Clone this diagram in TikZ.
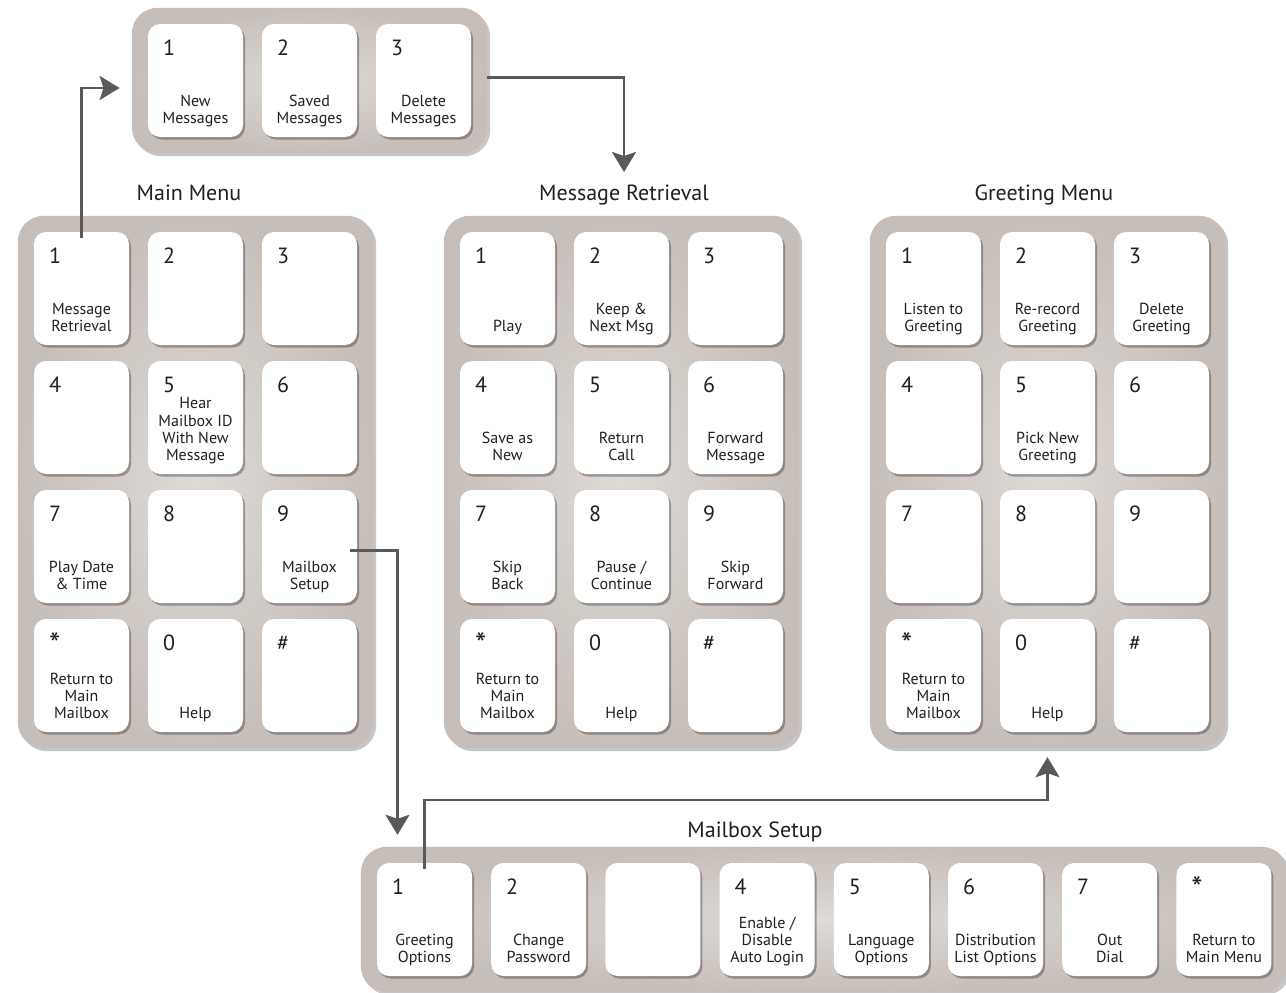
\documentclass[tikz,border=0pt]{standalone}
\usepackage{fontspec}
\setmainfont{PT Sans}
\usetikzlibrary{arrows.meta,positioning,fit,backgrounds,calc,shadows}
\definecolor{kpInk}{HTML}{231F20}
\definecolor{kpPanel}{HTML}{C6BEB9}
\definecolor{kpGlow}{HTML}{DEDAD6}
\definecolor{kpArrow}{HTML}{58595B}
\newcommand{\kpstar}{\raisebox{-5pt}{\fontsize{32}{32}\selectfont *}}
\tikzset{
  key/.style    ={fill=white,rounded corners=12pt,minimum width=95pt,minimum height=113pt,
                  inner sep=0pt,
                  drop shadow={shadow xshift=2pt,shadow yshift=-2.5pt,opacity=0.35,fill=kpInk}},
  keynum/.style ={anchor=base west,inner sep=0pt,font=\fontsize{22}{26}\selectfont,text=kpInk},
  keytxt/.style ={anchor=south,inner sep=0pt,align=center,
                  font=\fontsize{16}{17.3}\selectfont,text=kpInk},
  panel/.style  ={rounded corners=26pt,inner sep=16pt,shade,inner color=kpGlow,outer color=kpPanel,
                  drop shadow={shadow xshift=3pt,shadow yshift=-3pt,opacity=0.25,fill=kpInk}},
  title/.style  ={anchor=base,font=\fontsize{22}{26}\selectfont,text=kpInk},
  flow/.style   ={-{Stealth[length=20pt,width=24pt,inset=4pt]},kpArrow,line width=2.6pt},
}

\begin{document}
\begin{tikzpicture}[x=1pt,y=1pt]
\useasboundingbox (0,0) rectangle (1286,-993);
%% message list
\foreach \i/\n/\t in {1/1/{New\\Messages}, 2/2/{Saved\\Messages}, 3/3/{Delete\\Messages}}
{
  \node[key] (nm\i) at ({195.5+(\i-1)*114},-80.5) {};
  \node[keynum] (nm\i-n) at ($(nm\i.north west)+(15,-32)$) {\n};
  \node[keytxt] (nm\i-t) at ($(nm\i.south)+(0,8)$) {\t\strut};
}
%% main menu
\foreach \i/\c/\r/\n/\t in {
  1/0/0/1/{Message\\Retrieval}, 2/1/0/2/{}, 3/2/0/3/{},
  4/0/1/4/{}, 5/1/1/5/{Hear\\Mailbox ID\\With New\\Message}, 6/2/1/6/{},
  7/0/2/7/{Play Date\\\& Time}, 8/1/2/8/{}, 9/2/2/9/{Mailbox\\Setup},
  10/0/3/\kpstar/{Return to\\Main\\Mailbox}, 11/1/3/0/{Help}, 12/2/3/\#/{}}
{
  \node[key] (mm\i) at ({81.5+\c*114},{-288.5-\r*129}) {};
  \node[keynum] (mm\i-n) at ($(mm\i.north west)+(15,-32)$) {\n};
  \node[keytxt] (mm\i-t) at ($(mm\i.south)+(0,8)$) {\t\strut};
}
%% message retrieval
\foreach \i/\c/\r/\n/\t in {
  1/0/0/1/{Play}, 2/1/0/2/{Keep \&\\Next Msg}, 3/2/0/3/{},
  4/0/1/4/{Save as\\New}, 5/1/1/5/{Return\\Call}, 6/2/1/6/{Forward\\Message},
  7/0/2/7/{Skip\\Back}, 8/1/2/8/{Pause /\\Continue}, 9/2/2/9/{Skip\\Forward},
  10/0/3/\kpstar/{Return to\\Main\\Mailbox}, 11/1/3/0/{Help}, 12/2/3/\#/{}}
{
  \node[key] (mr\i) at ({507.5+\c*114},{-288.5-\r*129}) {};
  \node[keynum] (mr\i-n) at ($(mr\i.north west)+(15,-32)$) {\n};
  \node[keytxt] (mr\i-t) at ($(mr\i.south)+(0,8)$) {\t\strut};
}
%% greeting menu
\foreach \i/\c/\r/\n/\t in {
  1/0/0/1/{Listen to\\Greeting}, 2/1/0/2/{Re-record\\Greeting}, 3/2/0/3/{Delete\\Greeting},
  4/0/1/4/{}, 5/1/1/5/{Pick New\\Greeting}, 6/2/1/6/{},
  7/0/2/7/{}, 8/1/2/8/{}, 9/2/2/9/{},
  10/0/3/\kpstar/{Return to\\Main\\Mailbox}, 11/1/3/0/{Help}, 12/2/3/\#/{}}
{
  \node[key] (gm\i) at ({933.5+\c*114},{-288.5-\r*129}) {};
  \node[keynum] (gm\i-n) at ($(gm\i.north west)+(15,-32)$) {\n};
  \node[keytxt] (gm\i-t) at ($(gm\i.south)+(0,8)$) {\t\strut};
}
%% mailbox setup
\foreach \i/\n/\t in {
  1/1/{Greeting\\Options}, 2/2/{Change\\Password}, 3/{}/{}, 4/4/{Enable /\\Disable\\Auto Login},
  5/5/{Language\\Options}, 6/6/{Distribution\\List Options}, 7/7/{Out\\Dial},
  8/\kpstar/{Return to\\Main Menu}}
{
  \node[key] (ms\i) at ({424.5+(\i-1)*114.2},-919.5) {};
  \node[keynum] (ms\i-n) at ($(ms\i.north west)+(15,-32)$) {\n};
  \node[keytxt] (ms\i-t) at ($(ms\i.south)+(0,8)$) {\t\strut};
}
\begin{scope}[on background layer]
  \fill[white] (0,0) rectangle (1286,-993);
  \node[panel,fit=(nm1)(nm3)] (nmp) {};
  \node[panel,fit=(mm1)(mm12)] (mmp) {};
  \node[panel,fit=(mr1)(mr12)] (mrp) {};
  \node[panel,fit=(gm1)(gm12)] (gmp) {};
  \node[panel,fit=(ms1)(ms8)] (msp) {};
\end{scope}
\node[title] (mmtitle) at (189,-200) {Main Menu};
\node[title] (mrtitle) at (624,-200) {Message Retrieval};
\node[title] (gmtitle) at (1044,-200) {Greeting Menu};
\node[title] (mstitle) at (755,-837) {Mailbox Setup};
\coordinate (mrtip) at (624,-172);
\draw[flow] ([yshift=-6pt]mm1.north) |- ([xshift=-12pt,yshift=-7.5pt]nmp.west);
\draw[flow] ([yshift=3pt]nmp.east) -| (mrtip);
\draw[flow] ([xshift=-7pt,yshift=-4pt]mm9.east) -| ([xshift=-27pt,yshift=28pt]ms1.north);
\draw[flow] ([yshift=-6pt]ms1.north) -- ++(0,69) -| ([yshift=-25pt]gm11.south);
\end{tikzpicture}
\end{document}
